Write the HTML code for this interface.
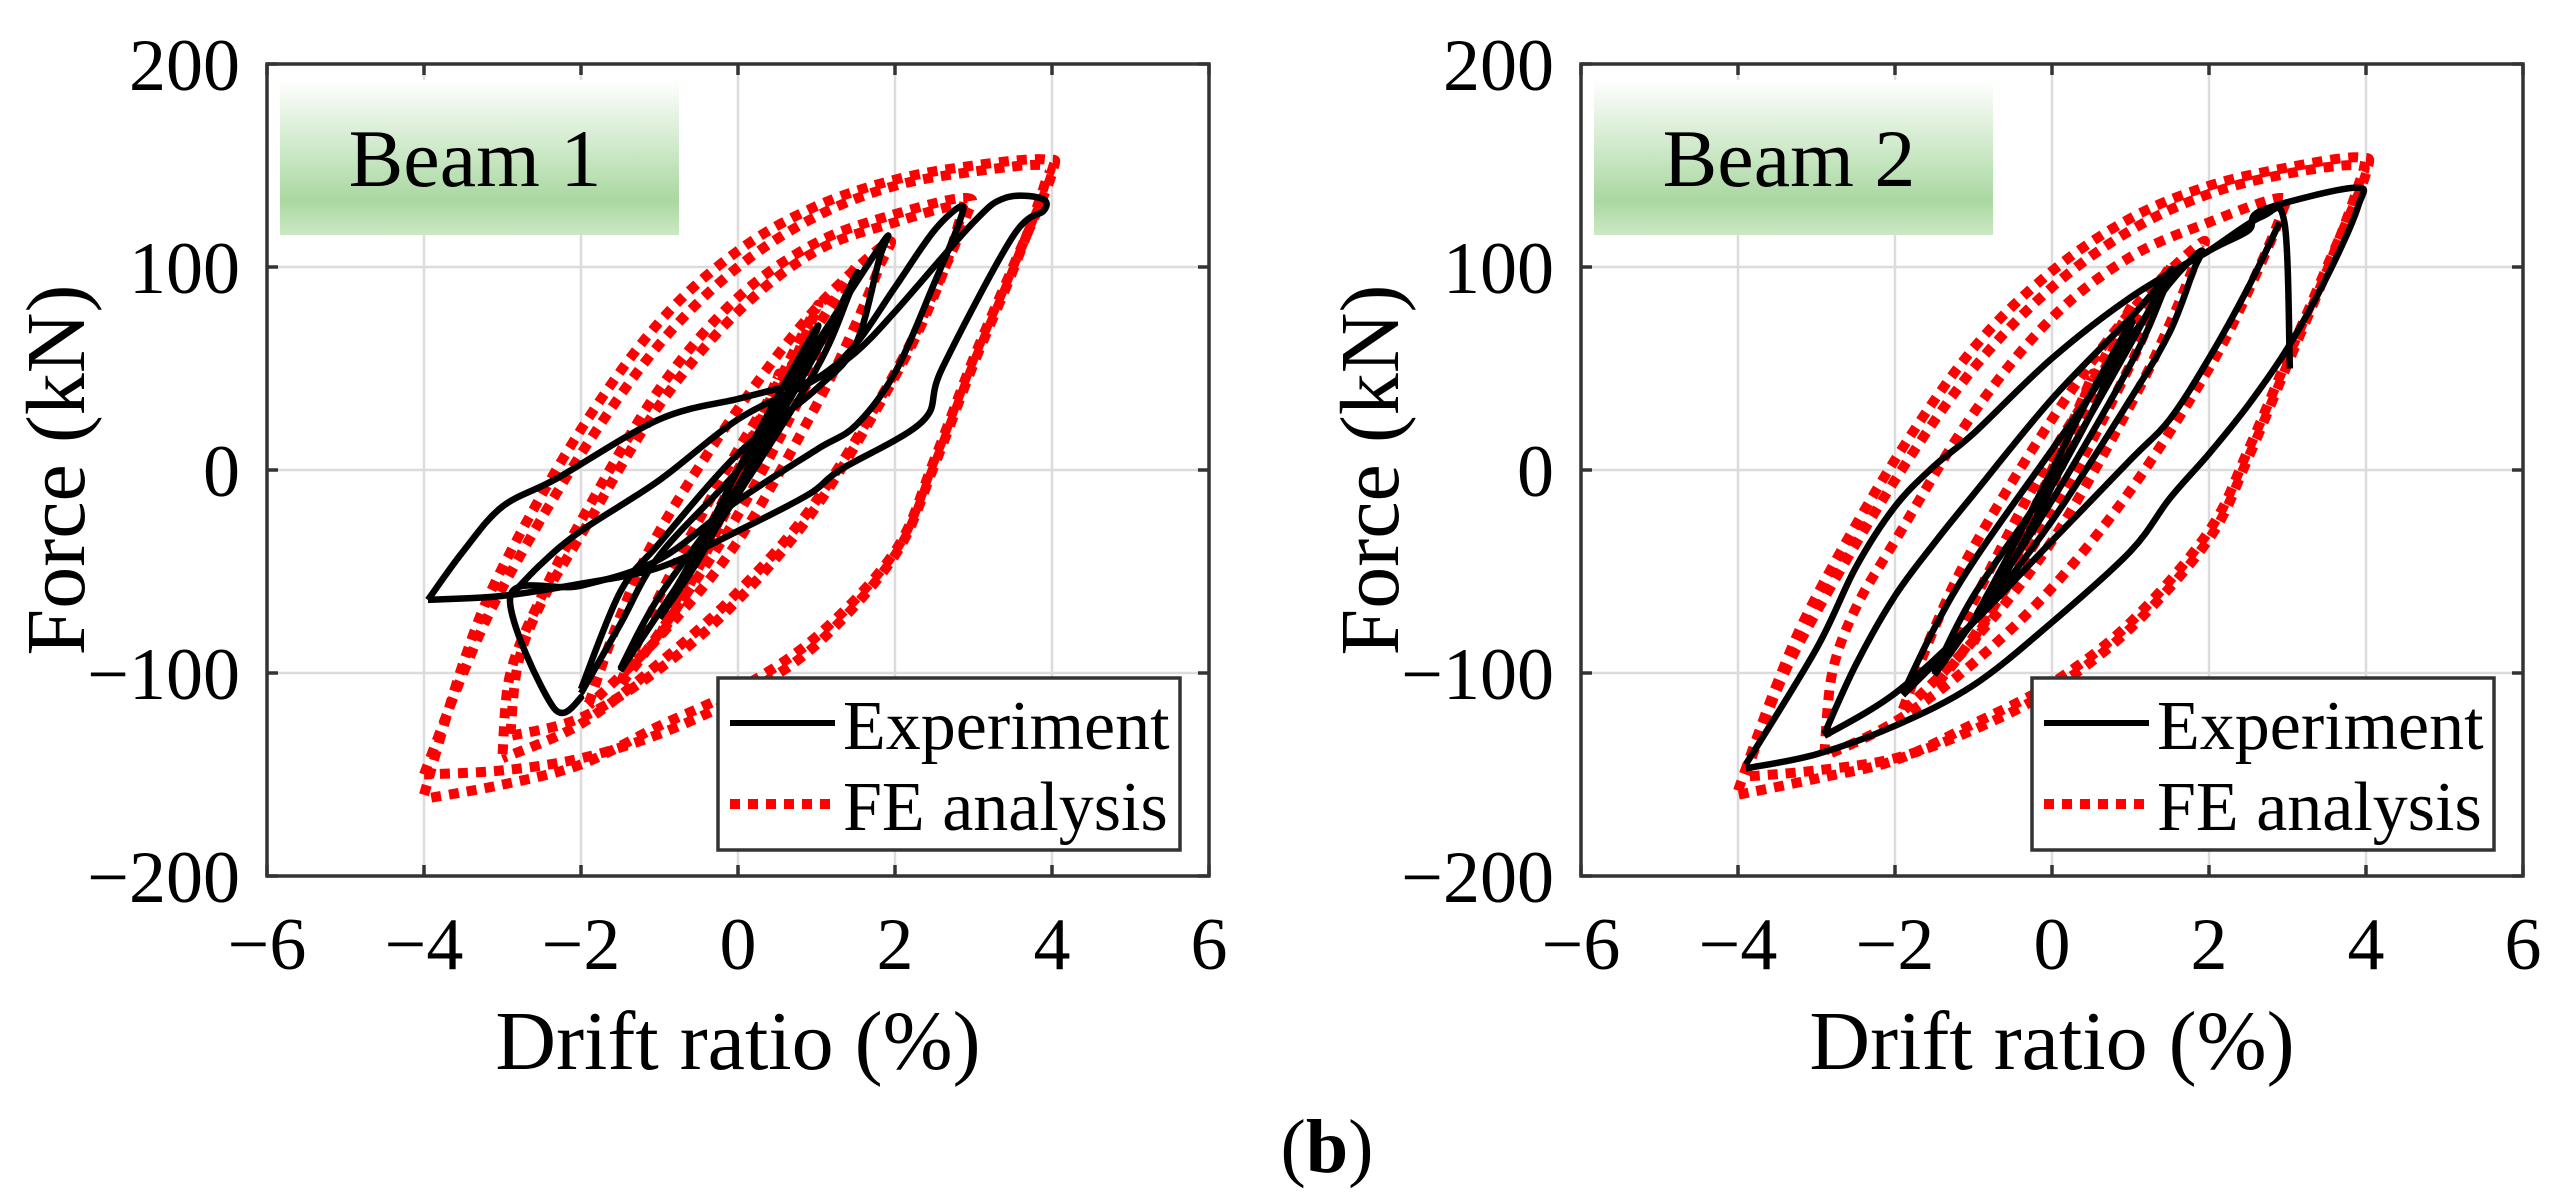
<!DOCTYPE html>
<html><head><meta charset="utf-8"><style>
html,body{margin:0;padding:0;background:#fff;}
svg{display:block;font-family:"Liberation Serif",serif;}
</style></head><body>
<svg id="fig" width="2557" height="1200" viewBox="0 0 2557 1200">
<defs>
<linearGradient id="gbox" x1="0" y1="0" x2="0" y2="1">
<stop offset="0" stop-color="#ffffff"/>
<stop offset="0.78" stop-color="#a9d8a0"/>
<stop offset="1" stop-color="#cbe8c4"/>
</linearGradient>
</defs>
<text x="1327" y="1172" font-size="76" text-anchor="middle">(<tspan font-weight="bold">b</tspan>)</text>
</svg>
<script>
const xTicks = [-6,-4,-2,0,2,4,6];
const yTicks = [-200,-100,0,100,200];
const xTickLabels = ["\u22126","\u22124","\u22122","0","2","4","6"];
const yTickLabels = ["\u2212200","\u2212100","0","100","200"];

// Beam 1 FE analysis loops [drift, force]
const b1FE4 = [[-4,-160],[-3.5,-95],[-3,-48],[-2,20],[-1,73],[0,108],[1,130],[2,143],[3,150],[3.9,153],[4,146],[3.5,100],[3,55],[2.5,5],[2,-40],[1,-82],[0,-108],[-1,-126],[-2,-145],[-3,-155],[-4,-162]];
const b1FE4b = [[-4,-150],[-3.5,-100],[-3,-58],[-2,8],[-1,62],[0,100],[1,125],[2,140],[3,147],[3.9,150],[3.9,140],[3.5,98],[3,52],[2.5,2],[2,-42],[1,-86],[0,-112],[-1,-130],[-2,-142],[-3,-148],[-4,-150]];
const b1FE3 = [[-3,-140],[-2.9,-100],[-2.5,-62],[-2,-25],[-1,40],[0,85],[1,112],[2,126],[2.9,134],[2.9,124],[2.5,88],[2,48],[1,-15],[0,-60],[-1,-95],[-2,-125],[-3,-142]];
const b1FE3b = [[-2.9,-130],[-2.8,-95],[-2.5,-65],[-2,-32],[-1,32],[0,78],[1,108],[2,122],[2.8,130],[2.8,120],[2.5,86],[2,46],[1,-18],[0,-64],[-1,-98],[-2,-122],[-2.9,-131]];
const b1FE2 = [[-1.9,-115],[-1.5,-72],[-1,-30],[0,30],[1,80],[1.9,112],[1.8,100],[1.5,72],[1,32],[0,-35],[-1,-82],[-1.9,-116]];
const b1FE15 = [[-1.5,-105],[-1,-62],[0,10],[1,70],[1.5,100],[1.4,90],[1,52],[0,-22],[-1,-80],[-1.5,-106]];
const b1FE1 = [[-1,-82],[-0.5,-40],[0,0],[0.5,42],[1,80],[0.9,70],[0.5,35],[0,-8],[-0.5,-48],[-1,-83]];
const b1FE05 = [[-0.5,-45],[0,-5],[0.5,45],[0.4,36],[0,0],[-0.5,-46]];
// Beam 1 experiment loops
const b1EX4 = [[-3.95,-64],[-3.5,-40],[-3,-18],[-2.3,-4],[-1,25],[0,35],[0.5,40],[1,45],[1.5,58],[2,78],[3,122],[3.4,134],[3.85,134],[3.9,128],[3.5,115],[2.6,50],[2.35,24],[1.3,0],[0.9,-12],[0,-30],[-1,-48],[-2,-56],[-3,-62],[-3.95,-64]];
const b1EX3 = [[-2.9,-62],[-2.5,-46],[-2,-30],[-1,-5],[0,25],[1,45],[1.5,62],[2,90],[2.5,118],[2.85,130],[2.8,120],[2.5,92],[2,48],[1.5,22],[1,10],[0,-15],[-1,-44],[-2,-57],[-2.9,-62],[-2.35,-117],[-1.97,-111]];
const b1EX2 = [[-2,-110],[-1.5,-76],[-1,-42],[0,0],[0.5,30],[1,62],[1.5,92],[1.9,115],[1.8,104],[1.5,62],[1,40],[0,8],[-1,-36],[-1.5,-60],[-2,-108]];
const b1EX15 = [[-1.5,-98],[-1,-62],[0,-8],[1,58],[1.5,96],[1.4,85],[1,50],[0,-12],[-1,-70],[-1.5,-99]];
const b1EX1 = [[-1,-72],[-0.5,-38],[0,0],[0.5,36],[1,70],[0.9,60],[0.5,28],[0,-8],[-0.5,-44],[-1,-73]];
// Beam 2 FE analysis loops
const b2FE4 = [[-4,-158],[-3.5,-105],[-3,-62],[-2,5],[-1,60],[0,98],[1,124],[2,140],[3,149],[3.9,154],[4,146],[3.5,100],[3,55],[2.5,10],[2,-30],[1,-75],[0,-105],[-1,-125],[-2,-143],[-3,-152],[-4,-160]];
const b2FE4b = [[-3.9,-150],[-3.5,-108],[-3,-70],[-2,-5],[-1,50],[0,90],[1,118],[2,136],[3,146],[3.9,150],[3.9,140],[3.5,98],[3,52],[2.5,6],[2,-34],[1,-78],[0,-108],[-1,-128],[-2,-142],[-3,-148],[-3.9,-151]];
const b2FE3 = [[-2.9,-140],[-2.8,-100],[-2.5,-68],[-2,-35],[-1,28],[0,75],[1,105],[2,122],[2.9,134],[2.9,124],[2.5,88],[2,50],[1,-10],[0,-58],[-1,-95],[-2,-124],[-2.9,-141]];
const b2FE2 = [[-1.9,-118],[-1.5,-78],[-1,-38],[0,25],[1,78],[1.9,112],[1.8,100],[1.5,72],[1,32],[0,-35],[-1,-84],[-1.9,-119]];
const b2FE15 = [[-1.5,-106],[-1,-65],[0,8],[1,68],[1.5,100],[1.4,90],[1,52],[0,-22],[-1,-82],[-1.5,-107]];
const b2FE1 = [[-1,-84],[-0.5,-42],[0,0],[0.5,42],[1,80],[0.9,70],[0.5,35],[0,-8],[-0.5,-50],[-1,-85]];
const b2FE05 = [[-0.5,-46],[0,-5],[0.5,45],[0.4,36],[0,0],[-0.5,-47]];
// Beam 2 experiment loops
const b2EX4 = [[-3.9,-145],[-3,-88],[-2.5,-48],[-2,-18],[-1.5,2],[-1,18],[0,55],[1,85],[2,108],[2.5,118],[2.68,128],[3.85,139],[3.9,130],[3.5,95],[3,60],[2.5,32],[2,8],[1.5,-14],[1,-40],[0,-75],[-1,-106],[-2,-126],[-3,-140],[-3.9,-147]];
const b2EX3 = [[-2.9,-130],[-2.5,-96],[-2,-62],[-1.5,-36],[-1,-12],[0,35],[1,75],[1.5,96],[2,108],[2.68,125],[2.96,122],[3.03,50]];
const b2EX3b = [[2.9,122],[2.5,90],[2,55],[1.5,25],[1,5],[0,-35],[-1,-75],[-2,-110],[-2.9,-131]];
const b2EX2 = [[-1.9,-110],[-1.5,-78],[-1,-45],[0,10],[1,65],[1.5,92],[1.9,108],[1.8,98],[1.5,68],[1,35],[0,-25],[-1,-75],[-1.9,-111]];
const b2EX15 = [[-1.5,-100],[-1,-62],[0,-5],[1,62],[1.5,98],[1.4,86],[1,52],[0,-15],[-1,-74],[-1.5,-101]];
const b2EX1 = [[-1,-74],[-0.5,-38],[0,0],[0.5,38],[1,72],[0.9,62],[0.5,28],[0,-8],[-0.5,-45],[-1,-75]];

const NS = "http://www.w3.org/2000/svg";
const svg = document.getElementById('fig');
function mk(tag, attrs, parent){
  const e = document.createElementNS(NS, tag);
  for (const k in attrs) e.setAttribute(k, attrs[k]);
  (parent||svg).appendChild(e);
  return e;
}
function smoothPath(pts, X, Y){
  const p = pts.map(q=>[X(q[0]),Y(q[1])]);
  let d = "M"+p[0][0].toFixed(1)+","+p[0][1].toFixed(1);
  for (let i=0;i<p.length-1;i++){
    const p0=p[Math.max(0,i-1)], p1=p[i], p2=p[i+1], p3=p[Math.min(p.length-1,i+2)];
    const c1=[p1[0]+(p2[0]-p0[0])/6, p1[1]+(p2[1]-p0[1])/6];
    const c2=[p2[0]-(p3[0]-p1[0])/6, p2[1]-(p3[1]-p1[1])/6];
    d += " C"+c1[0].toFixed(1)+","+c1[1].toFixed(1)+" "+c2[0].toFixed(1)+","+c2[1].toFixed(1)+" "+p2[0].toFixed(1)+","+p2[1].toFixed(1);
  }
  return d;
}

function panel(L, name, title, feLoops, exLoops){
  const R = L + 942, T = 64, B = 876;
  const X = d => L + (d + 6) / 12 * (R - L);
  const Y = f => T + (200 - f) / 400 * (B - T);
  const g = mk('g', {});
  
  
  xTicks.forEach(t => {
    const ln = mk('line', {x1:X(t), x2:X(t), y1:T, y2:B, stroke:'#dcdcdc', 'stroke-width':2.5}, g);
    
    
  });
  yTicks.forEach(t => {
    const ln = mk('line', {x1:L, x2:R, y1:Y(t), y2:Y(t), stroke:'#dcdcdc', 'stroke-width':2.5}, g);
    
    
  });
  feLoops.forEach(lp => {
    const p = mk('path', {d:smoothPath(lp,X,Y), fill:'none', stroke:'#ff0000', 'stroke-width':10, 'stroke-dasharray':'10 8'}, g);
    
    
  });
  exLoops.forEach(lp => {
    const p = mk('path', {d:smoothPath(lp,X,Y), fill:'none', stroke:'#000', 'stroke-width':6.5, 'stroke-linejoin':'round'}, g);
    
    
  });
  const bx = mk('rect', {x:L+13, y:80, width:399, height:155, fill:'url(#gbox)'}, g);
  
  
  const bt = mk('text', {x:L+208, y:186, 'font-size':82, 'text-anchor':'middle', fill:'#000'}, g);
  bt.textContent = title;
  
  
  const ax = mk('rect', {x:L, y:T, width:R-L, height:B-T, fill:'none', stroke:'#333', 'stroke-width':3.5}, g);
  
  
  xTicks.forEach((t,i) => {
    mk('line', {x1:X(t), x2:X(t), y1:B, y2:B-11, stroke:'#333', 'stroke-width':3.5}, g);
    mk('line', {x1:X(t), x2:X(t), y1:T, y2:T+11, stroke:'#333', 'stroke-width':3.5}, g);
    const tx = mk('text', {x:X(t), y:969, 'font-size':74, 'text-anchor':'middle'}, g);
    tx.textContent = xTickLabels[i];
    
    
  });
  yTicks.forEach((t,i) => {
    mk('line', {x1:L, x2:L+11, y1:Y(t), y2:Y(t), stroke:'#333', 'stroke-width':3.5}, g);
    mk('line', {x1:R, x2:R-11, y1:Y(t), y2:Y(t), stroke:'#333', 'stroke-width':3.5}, g);
    const tx = mk('text', {x:L-27, y:Y(t)+26, 'font-size':74, 'text-anchor':'end'}, g);
    tx.textContent = yTickLabels[i];
    
    
  });
  const xl = mk('text', {x:(L+R)/2, y:1069, 'font-size':84, 'text-anchor':'middle'}, g);
  xl.textContent = 'Drift ratio (%)';
  
  
  const yl = mk('text', {x:0, y:0, 'font-size':84, 'text-anchor':'middle', transform:'translate('+(L-183)+',470) rotate(-90)'}, g);
  yl.textContent = 'Force (kN)';
  
  
  const lg = mk('g', {}, g);
  
  
  mk('rect', {x:L+451, y:678, width:462, height:172, fill:'#fff', stroke:'#333', 'stroke-width':3.5}, lg);
  mk('line', {x1:L+463, x2:L+568, y1:723, y2:723, stroke:'#000', 'stroke-width':6}, lg);
  mk('line', {x1:L+463, x2:L+568, y1:804, y2:804, stroke:'#ff0000', 'stroke-width':10, 'stroke-dasharray':'10 8'}, lg);
  const t1 = mk('text', {x:L+576, y:749, 'font-size':70}, lg);
  t1.textContent = 'Experiment';
  
  
  const t2 = mk('text', {x:L+576, y:830, 'font-size':70}, lg);
  t2.textContent = 'FE analysis';
  
  
}

panel(267, 'beam-1-chart', 'Beam 1',
  [b1FE4,b1FE4b,b1FE3,b1FE3b,b1FE2,b1FE15,b1FE1,b1FE05],
  [b1EX4,b1EX3,b1EX2,b1EX15,b1EX1]);
panel(1581, 'beam-2-chart', 'Beam 2',
  [b2FE4,b2FE4b,b2FE3,b2FE2,b2FE15,b2FE1,b2FE05],
  [b2EX4,b2EX3,b2EX3b,b2EX2,b2EX15,b2EX1]);
</script>
</body></html>
